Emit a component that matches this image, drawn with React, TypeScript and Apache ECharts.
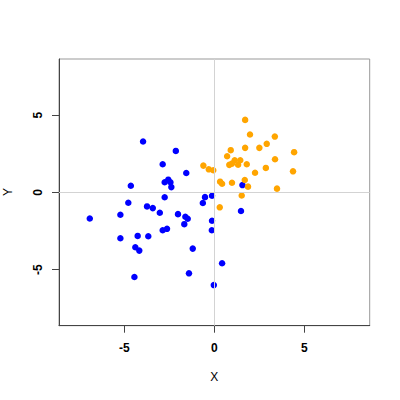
import React, { useEffect, useRef } from "react";
import * as echarts from "echarts";

const blueX = [-3.96, -2.14, -2.87, -1.56, -4.64, -2.56, -2.76, -2.44, -2.39, -2.76, -0.52, -0.13, 1.56, -4.78, -3.74, -3.42, -3.03, -6.92, -5.22, -2.02, -1.61, -1.48, -1.67, -0.64, -0.13, -0.14, -2.87, -2.63, -5.22, -4.26, -3.67, -4.39, -4.17, -1.2, -4.44, -1.41, -0.03, 0.43, 1.48];
const blueY = [3.29, 2.68, 1.82, 1.25, 0.43, 0.82, 0.65, 0.65, 0.34, -0.32, -0.31, -0.22, 0.47, -0.67, -0.91, -1.02, -1.32, -1.69, -1.45, -1.41, -1.58, -1.71, -2.06, -0.69, -1.84, -2.45, -2.45, -2.36, -2.97, -2.82, -2.84, -3.55, -3.77, -3.64, -5.48, -5.24, -6.0, -4.59, -1.21];

const orangeX = [1.71, 1.98, 3.36, 2.91, 2.5, 1.71, 0.91, 4.43, 0.71, 3.37, 1.13, 1.44, 0.83, 0.98, 1.32, 1.8, -0.61, -0.31, -0.06, 2.86, 2.26, 4.37, 0.32, 0.43, 0.98, 1.69, 1.87, 3.48, 1.52, 0.3];
const orangeY = [4.69, 3.74, 3.61, 3.14, 2.88, 2.88, 2.73, 2.6, 2.34, 2.14, 2.08, 2.08, 1.78, 1.86, 1.79, 1.82, 1.73, 1.49, 1.43, 1.58, 1.27, 1.36, 0.69, 0.56, 0.62, 0.8, 0.37, 0.24, -0.2, -0.97];

const tickValues = [-5, 0, 5];
const axisRange = 8.63;

const FONT = "'Liberation Sans', Arial, Helvetica, sans-serif";

export default function App() {
  const ref = useRef<HTMLDivElement>(null);
  useEffect(() => {
    if (!ref.current) return;
    const chart = echarts.init(ref.current, undefined, { renderer: "svg" });
    const axisCommon = {
      type: "value" as const,
      min: -axisRange,
      max: axisRange,
      axisLine: { show: true, onZero: false, lineStyle: { color: "#444", width: 1 } },
      axisTick: { show: true, customValues: tickValues, length: 7, lineStyle: { color: "#444" } },
      splitLine: { show: false },
    };
    chart.setOption({
      animation: false,
      backgroundColor: "#ffffff",
      grid: {
        left: 59,
        right: 30.3,
        top: 59,
        bottom: 74.3,
        show: true,
        borderColor: "#999",
        borderWidth: 1,
        backgroundColor: "transparent",
      },
      xAxis: {
        ...axisCommon,
        axisLabel: {
          customValues: tickValues,
          margin: 16,
          fontFamily: FONT,
          fontWeight: "bold",
          fontSize: 12,
          color: "#000",
        },
      },
      yAxis: {
        ...axisCommon,
        axisLabel: {
          customValues: tickValues,
          rotate: 90,
          margin: 15,
          fontFamily: FONT,
          fontWeight: "bold",
          fontSize: 12,
          color: "#000",
        },
      },
      graphic: [
        {
          type: "text",
          x: 214.3,
          y: 377,
          style: { text: "X", font: `12px ${FONT}`, fill: "#000", textAlign: "center", textVerticalAlign: "middle" },
        },
        {
          type: "text",
          x: 8,
          y: 192,
          rotation: Math.PI / 2,
          style: { text: "Y", font: `12px ${FONT}`, fill: "#000", textAlign: "center", textVerticalAlign: "middle" },
        },
      ],
      series: [
        {
          type: "scatter",
          data: [],
          z: 1,
          markLine: {
            silent: true,
            symbol: "none",
            label: { show: false },
            lineStyle: { color: "#d3d3d3", type: "solid", width: 1 },
            data: [{ xAxis: 0 }, { yAxis: 0 }],
          },
        },
        {
          type: "scatter",
          z: 2,
          symbolSize: 6.5,
          itemStyle: { color: "#0000ff", opacity: 1 },
          data: blueX.map((x, i) => [x, blueY[i]]),
        },
        {
          type: "scatter",
          z: 3,
          symbolSize: 6.5,
          itemStyle: { color: "#ffa500", opacity: 1 },
          data: orangeX.map((x, i) => [x, orangeY[i]]),
        },
      ],
    });
    return () => chart.dispose();
  }, []);
  return (
    <div
      ref={ref}
      style={{ position: "fixed", left: 0, top: 0, width: 400, height: 400, background: "#fff" }}
    />
  );
}
